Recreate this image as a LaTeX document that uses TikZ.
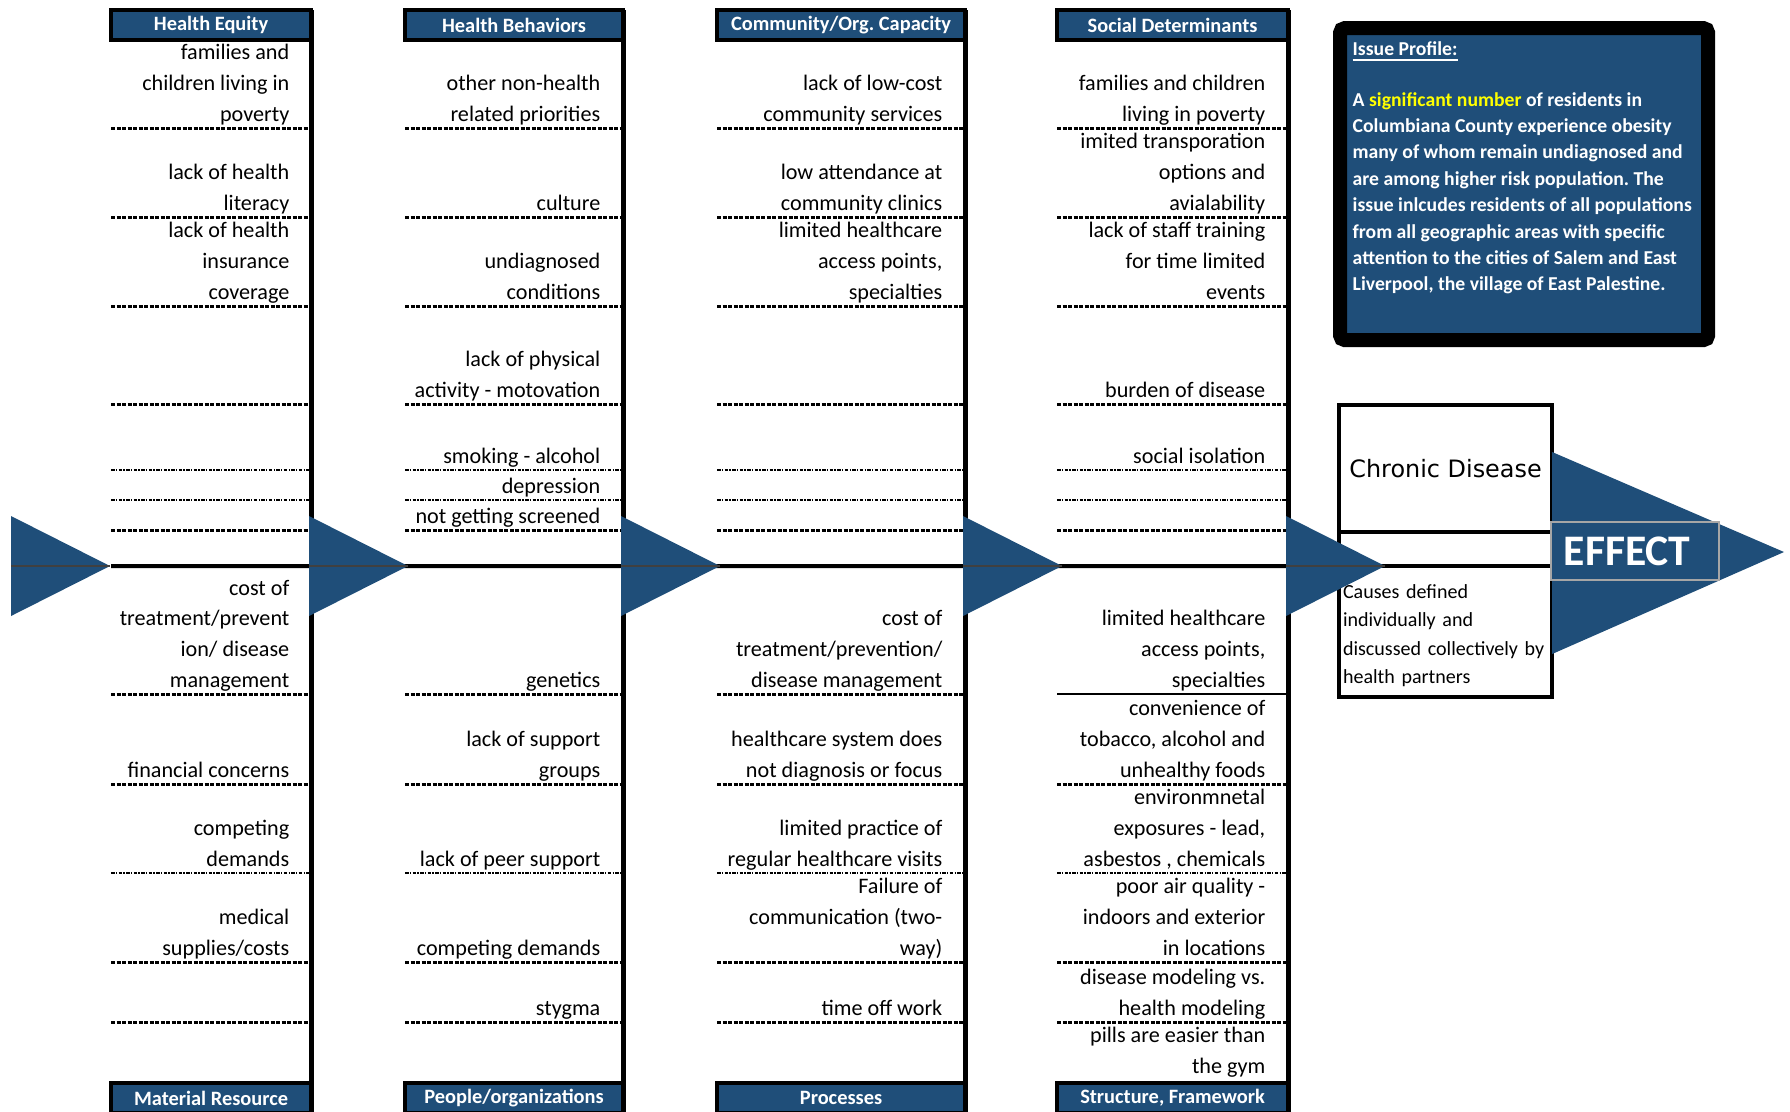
\documentclass[tikz,border=0pt]{standalone}
\usepackage{fontspec}
\setmainfont{Carlito}
\newfontfamily\tahomafont{DejaVu Sans}
\usepackage{xcolor}
\usepackage{tikz}
\usetikzlibrary{positioning}
\definecolor{fishBlue}{HTML}{1F4E79}
\definecolor{fishGray}{HTML}{404040}
\definecolor{fishYellow}{HTML}{FFFF00}
\frenchspacing
\tikzset{
  hdr/.style={draw=black, line width=0.04cm, fill=fishBlue, text=white, font=\fontsize{5.8}{7}\selectfont\bfseries, minimum width=#1, minimum height=0.30cm, inner sep=0pt, outer sep=0pt, anchor=north west},
  cause/.style={font=\fontsize{6.3}{8.7}\selectfont, align=right, inner sep=0pt, anchor=south east},
  ribheavy/.style={line width=0.03cm, dash pattern=on 0.04cm off 0.015cm},
  riblight/.style={line width=0.018cm, dash pattern=on 0.035cm off 0.014cm on 0.012cm off 0.014cm},
  colline/.style={line width=0.05cm},
  spine/.style={line width=0.04cm},
  midline/.style={draw=fishGray, line width=0.022cm},
  boxpart/.style={draw=black, line width=0.04cm, minimum width=2.13cm, inner sep=0pt, outer sep=0pt},
  iptext/.style={font=\fontsize{5.6}{7.5}\selectfont\bfseries, text=white, inner sep=0pt},
}

\begin{document}
\begin{tikzpicture}[x=0.01cm, y=-0.01cm]
\useasboundingbox (0,0) rectangle (1790,1111);

% Ribs
\foreach \xl/\xr in {111/311, 405/623, 717/965, 1057/1288}{
  \foreach \y in {128,217,306,404,530,784,962,1022} \draw[ribheavy] (\xl,\y) -- (\xr,\y);
  \foreach \y in {470,500,873} \draw[riblight] (\xl,\y) -- (\xr,\y);
}
\foreach \xl/\xr in {111/311, 405/623, 717/965} \draw[ribheavy] (\xl,694) -- (\xr,694);
\draw[line width=0.015cm] (1057,694) -- (1288,694);

% Chronic Disease box
\node[boxpart, minimum height=1.27cm, anchor=north west, font=\tahomafont\fontsize{6.8}{8}\selectfont] (cdTop) at (1339,405) {Chronic Disease};
\node[boxpart, minimum height=0.34cm, below=0pt of cdTop] (cdBand) {};
\node[boxpart, minimum height=1.31cm, below=0pt of cdBand, text width=2.05cm, align=left, inner xsep=0.04cm, font=\fontsize{5.7}{8}\selectfont] (cdNote) {\rule{0pt}{0.22cm}Causes defined\\individually and\\discussed collectively by\\health partners};

% Headers
\node[hdr=2.00cm] (he) at (111,10) {Health Equity};
\node[hdr=2.18cm] (hb) at (405,10) {Health Behaviors};
\node[hdr=2.48cm] (co) at (717,10) {Community/Org. Capacity};
\node[hdr=2.31cm] (sd) at (1057,10) {Social Determinants};
\node[hdr=2.00cm] (mr) at (111,1083) {Material Resource};
\node[hdr=2.18cm] (po) at (405,1083) {People/organizations};
\node[hdr=2.48cm] (pr) at (717,1083) {Processes};
\node[hdr=2.31cm] (sf) at (1057,1083) {Structure, Framework};

% Spine and columns
\draw[spine] (111,566) -- (cdBand.south west);
\draw[colline] (he.north east) -- (mr.south east);
\draw[colline] (hb.north east) -- (po.south east);
\draw[colline] (co.north east) -- (pr.south east);
\draw[colline] (sd.north east) -- (sf.south east);

% Arrow heads on the spine
\foreach \xt in {11, 309, 621, 963, 1286}{
  \fill[fishBlue] (\xt,516) -- (\xt+99,566) -- (\xt,616) -- cycle;
  \draw[midline] (\xt,566) -- (\xt+99,566);
}

% Health Equity
\foreach \y/\txt [count=\i] in {128/{families and\\children living in\\poverty}, 217/{lack of health\\literacy}, 306/{lack of health\\insurance\\coverage}, 694/{cost of\\treatment/prevent\\ion/ disease\\management}, 784/{financial concerns}, 873/{competing\\demands}, 962/{medical\\supplies/costs}}
  \node[cause] (he\i) at (290,\y+3) {\txt\strut};

% Health Behaviors
\foreach \y/\txt [count=\i] in {128/{other non-health\\related priorities}, 217/{culture}, 306/{undiagnosed\\conditions}, 404/{lack of physical\\activity - motovation}, 470/{smoking - alcohol}, 500/{depression}, 530/{not getting screened}, 694/{genetics}, 784/{lack of support\\groups}, 873/{lack of peer support}, 962/{competing demands}, 1022/{stygma}}
  \node[cause] (hb\i) at (601,\y+3) {\txt\strut};

% Community/Org. Capacity
\foreach \y/\txt [count=\i] in {128/{lack of low-cost\\community services}, 217/{low attendance at\\community clinics}, 306/{limited healthcare\\access points,\\specialties}, 694/{cost of\\treatment/prevention/\\disease management}, 784/{healthcare system does\\not diagnosis or focus}, 873/{limited practice of\\regular healthcare visits}, 962/{Failure of\\communication (two-\\way)}, 1022/{time off work}}
  \node[cause] (co\i) at (943,\y+3) {\txt\strut};

% Social Determinants
\foreach \y/\txt [count=\i] in {128/{families and children\\living in poverty}, 217/{imited transporation\\options and\\avialability}, 306/{lack of staff training\\for time limited\\events}, 404/{burden of disease}, 470/{social isolation}, 694/{limited healthcare\\access points,\\specialties}, 784/{convenience of\\tobacco, alcohol and\\unhealthy foods}, 873/{environmnetal\\exposures - lead,\\asbestos , chemicals}, 962/{poor air quality -\\indoors and exterior\\in locations}, 1022/{disease modeling vs.\\health modeling}, 1080/{pills are easier than\\the gym}}
  \node[cause] (sd\i) at (1266,\y+3) {\txt\strut};

% Issue Profile
\node[draw=black, line width=0.14cm, rounded corners=0.05cm, fill=fishBlue, minimum width=3.68cm, minimum height=3.12cm, outer sep=0pt, anchor=north west] (issue) at (1340,28) {};
\node[iptext, anchor=base west] (ipTitle) at (1352,55) {\underline{Issue Profile:}};
\node[iptext, anchor=north west, align=left] (ipBody) at (1352,87) {\strut A \textcolor{fishYellow}{significant number} of residents in\\Columbiana County experience obesity\\many of whom remain undiagnosed and\\are among higher risk population. The\\issue inlcudes residents of all populations\\from all geographic areas with specific\\attention to the cities of Salem and East\\Liverpool, the village of East Palestine.};

% Effect
\fill[fishBlue] (cdTop.east |- 0,452) -- (1784,552) -- (cdNote.east |- 0,654) -- cycle;
\node[draw=black!35, line width=0.015cm, fill=fishBlue, text=white, font=\fontsize{12.4}{14}\selectfont\bfseries, text width=1.42cm, align=left, inner xsep=0.13cm, inner ysep=0pt, minimum height=0.58cm, anchor=west] (effect) at (1550,551) {EFFECT};
\end{tikzpicture}
\end{document}
